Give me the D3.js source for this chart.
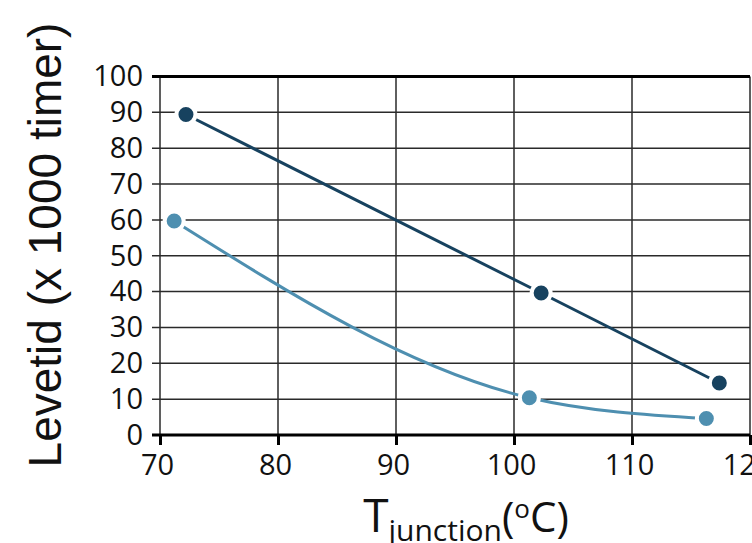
<!DOCTYPE html>
<meta charset="utf-8">
<style>
  body { margin: 0; background: #fff; }
  .tick text { font-family: "Open Sans", sans-serif; font-size: 29px; fill: #111; }
</style>
<body>
<script src="https://d3js.org/d3.v7.min.js"></script>
<script>

// data
var darkX = [72.2, 102.3, 117.4];
var darkY = [89.4, 39.6, 14.5];
var lightX = [71.2, 101.3, 116.3];
var lightY = [59.7, 10.4, 4.6];
var xTicks = [70, 80, 90, 100, 110, 120];
var yTicks = [0, 10, 20, 30, 40, 50, 60, 70, 80, 90, 100];

var width = 752, height = 543;
var plotL = 160, plotR = 750, plotT = 76.5, plotB = 435;

var x = d3.scaleLinear().domain([70, 120]).range([plotL, plotR]);
var y = d3.scaleLinear().domain([0, 100]).range([plotB, plotT]);

var svg = d3.select("body").append("svg")
    .attr("width", width)
    .attr("height", height);

// horizontal grid
svg.append("g").selectAll("line")
    .data(yTicks.filter(function(d) { return d > 0 && d < 100; }))
  .enter().append("line")
    .attr("x1", plotL - 8).attr("x2", plotR)
    .attr("y1", function(d) { return y(d); })
    .attr("y2", function(d) { return y(d); })
    .attr("stroke", "#2a2a2a").attr("stroke-width", 1.5);

// vertical grid
svg.append("g").selectAll("line")
    .data(xTicks)
  .enter().append("line")
    .attr("x1", function(d) { return x(d); })
    .attr("x2", function(d) { return x(d); })
    .attr("y1", plotT).attr("y2", plotB)
    .attr("stroke", "#2a2a2a").attr("stroke-width", 1.5);

// top border, thicker
svg.append("line")
    .attr("x1", plotL - 8).attr("x2", plotR)
    .attr("y1", plotT).attr("y2", plotT)
    .attr("stroke", "#000").attr("stroke-width", 3);

// y axis labels
var yAxis = svg.append("g")
    .attr("transform", "translate(" + plotL + ",0)")
    .call(d3.axisLeft(y).tickValues(yTicks).tickSize(0).tickPadding(17));
yAxis.select(".domain").remove();

// x axis, thick with ticks down
var xAxis = svg.append("g")
    .attr("transform", "translate(0," + plotB + ")")
    .call(d3.axisBottom(x).tickValues(xTicks).tickSize(10).tickPadding(9).tickSizeOuter(0));
xAxis.select(".domain").attr("stroke", "#000").attr("stroke-width", 3)
    .attr("d", "M" + (plotL - 8) + ",0H" + plotR);
xAxis.selectAll(".tick line").attr("stroke", "#000").attr("stroke-width", 3);
xAxis.selectAll(".tick text").attr("dx", -3);

var dark = darkX.map(function(d, i) { return [d, darkY[i]]; });
var light = lightX.map(function(d, i) { return [d, lightY[i]]; });

var line = d3.line()
    .x(function(d) { return x(d[0]); })
    .y(function(d) { return y(d[1]); });

svg.append("path")
    .datum(light)
    .attr("d", line.curve(d3.curveMonotoneX))
    .attr("fill", "none")
    .attr("stroke", "#4e8fb0")
    .attr("stroke-width", 3);

svg.append("path")
    .datum(dark)
    .attr("d", line.curve(d3.curveLinear))
    .attr("fill", "none")
    .attr("stroke", "#17425f")
    .attr("stroke-width", 3);

svg.append("g").selectAll("circle")
    .data(light)
  .enter().append("circle")
    .attr("cx", function(d) { return x(d[0]); })
    .attr("cy", function(d) { return y(d[1]); })
    .attr("r", 9.5)
    .attr("fill", "#4e8fb0")
    .attr("stroke", "#fff").attr("stroke-width", 4);

svg.append("g").selectAll("circle")
    .data(dark)
  .enter().append("circle")
    .attr("cx", function(d) { return x(d[0]); })
    .attr("cy", function(d) { return y(d[1]); })
    .attr("r", 9.5)
    .attr("fill", "#17425f")
    .attr("stroke", "#fff").attr("stroke-width", 4);

// axis titles
svg.append("text")
    .attr("transform", "translate(61,245) rotate(-90)")
    .attr("text-anchor", "middle")
    .attr("font-family", "Liberation Sans, Arial, sans-serif")
    .attr("font-size", 46)
    .attr("fill", "#111")
    .text("Levetid (x 1000 timer)");

var xt = svg.append("text")
    .attr("x", 466).attr("y", 532)
    .attr("text-anchor", "middle")
    .attr("font-family", "Open Sans, sans-serif")
    .attr("fill", "#111");
xt.append("tspan").attr("font-size", 46).text("T");
xt.append("tspan").attr("font-size", 30).attr("dy", 9).text("junction");
xt.append("tspan").attr("font-size", 42).attr("dy", -9).text("(");
xt.append("tspan").attr("font-size", 26).attr("dy", -14).text("o");
xt.append("tspan").attr("font-size", 42).attr("dy", 14).text("C)");

</script>
</body>
